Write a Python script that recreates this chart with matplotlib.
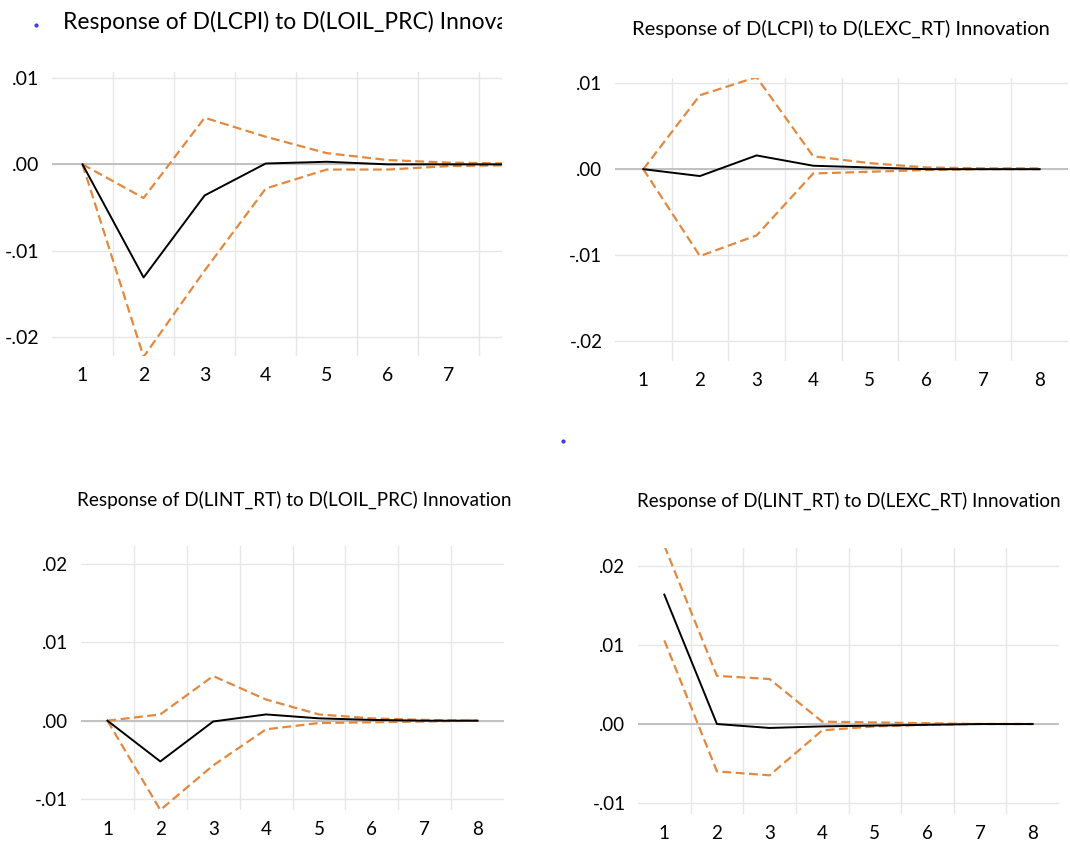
import matplotlib
matplotlib.use("Agg")
import matplotlib.pyplot as plt
from matplotlib.lines import Line2D
from matplotlib.transforms import Bbox, TransformedBbox

plt.rcParams['font.family'] = ['Lato', 'DejaVu Sans']

# Impulse responses (periods 1..8)
periods = [1, 2, 3, 4, 5, 6, 7, 8]

cpi_oil = [0.0, -0.0131, -0.0036, 0.0001, 0.0003, 0.0, 0.0, 0.0]
cpi_oil_hi = [0.0, -0.0039, 0.0054, 0.0032, 0.0013, 0.0005, 0.0002, 0.0001]
cpi_oil_lo = [0.0, -0.0223, -0.0123, -0.0028, -0.0006, -0.0006, -0.0002, -0.0001]

cpi_exc = [0.0, -0.0008, 0.0016, 0.0004, 0.0002, 0.0, 0.0, 0.0]
cpi_exc_hi = [0.0, 0.0086, 0.0107, 0.0015, 0.0007, 0.0002, 0.0001, 0.0001]
cpi_exc_lo = [0.0, -0.0101, -0.0077, -0.0005, -0.0003, -0.0001, 0.0, 0.0]

int_oil = [0.0, -0.0052, -0.0001, 0.0008, 0.0003, 0.0001, 0.0, 0.0]
int_oil_hi = [0.0, 0.0008, 0.0057, 0.0027, 0.0008, 0.0003, 0.0001, 0.0]
int_oil_lo = [0.0, -0.0114, -0.0057, -0.0011, -0.0003, -0.0002, -0.0001, 0.0]

int_exc = [0.0164, 0.0, -0.0005, -0.0003, -0.0002, -0.0001, 0.0, 0.0]
int_exc_hi = [0.0226, 0.0061, 0.0057, 0.0003, 0.0002, 0.0001, 0.0, 0.0]
int_exc_lo = [0.0106, -0.0060, -0.0065, -0.0008, -0.0003, -0.0001, 0.0, 0.0]

titles = ["Response of D(LCPI) to D(LOIL_PRC) Innovation",
          "Response of D(LCPI) to D(LEXC_RT) Innovation",
          "Response of D(LINT_RT) to D(LOIL_PRC) Innovation",
          "Response of D(LINT_RT) to D(LEXC_RT) Innovation"]

top_ticks = [0.01, 0.0, -0.01, -0.02]
top_labels = [".01", ".00", "-.01", "-.02"]
bot_ticks = [0.02, 0.01, 0.0, -0.01]
bot_labels = [".02", ".01", ".00", "-.01"]

W, H = 1070, 846
fig = plt.figure(figsize=(W / 100, H / 100), dpi=100)
renderer = fig.canvas.get_renderer()

ORANGE = '#e3893f'

# pixel boxes: left, top, right, bottom
boxes = [(52, 72, 502, 356), (615, 78, 1068, 361),
         (81, 546, 504, 810), (638, 548, 1059, 814)]
xlims = [(0.5, 7.87), (0.5, 8.5), (0.5, 8.5), (0.5, 8.5)]
ylims = [(-0.0222, 0.0107), (-0.0223, 0.0106), (-0.0114, 0.0223), (-0.0114, 0.0223)]
series = [(cpi_oil, cpi_oil_hi, cpi_oil_lo), (cpi_exc, cpi_exc_hi, cpi_exc_lo),
          (int_oil, int_oil_hi, int_oil_lo), (int_exc, int_exc_hi, int_exc_lo)]
# title start x, baseline y and full width (pixels)
title_pos = [(63, 29, 483), (632, 35, 420), (77, 506, 433), (637, 507, 422)]

for i, (l, t, r, b) in enumerate(boxes):
    ax = fig.add_axes([l / W, 1 - b / H, (r - l) / W, (b - t) / H])
    resp, hi, lo = series[i]
    ax.set_xlim(*xlims[i])
    ax.set_ylim(*ylims[i])
    if i < 2:
        ax.set_yticks(top_ticks, top_labels)
    else:
        ax.set_yticks(bot_ticks, bot_labels)
    shown = periods[:-1] if i == 0 else periods
    ax.set_xticks(shown)
    ax.set_xticks([p + 0.5 for p in periods[:-1]], minor=True)
    ax.grid(axis='y', which='major', color='#e6e6e6', lw=1.0)
    ax.grid(axis='x', which='minor', color='#e6e6e6', lw=1.0)
    ax.axhline(0, color='#bdbdbd', lw=1.3, zorder=1)
    for s in ax.spines.values():
        s.set_visible(False)
    ax.tick_params(which='both', length=0, labelsize=14 if i == 0 else 13.5)
    ax.tick_params(axis='y', pad=9)
    ax.tick_params(axis='x', pad=8)
    ax.plot(periods, hi, color=ORANGE, lw=1.6, ls=(0, (4, 2)), zorder=3)
    ax.plot(periods, lo, color=ORANGE, lw=1.6, ls=(0, (4, 2)), zorder=3)
    ax.plot(periods, resp, color='black', lw=1.4, zorder=4)
    ax.set_axisbelow(True)

    tx, ty, tw = title_pos[i]
    txt = fig.text(tx / W, 1 - ty / H, titles[i], fontsize=15,
                   ha='left', va='baseline')
    # fit the title to the width it has in the original
    w = txt.get_window_extent(renderer).width
    txt.set_fontsize(15 * tw / w)
    if i == 0:
        txt.set_clip_box(TransformedBbox(Bbox([[0, 0.9], [502 / W, 1.0]]),
                                         fig.transFigure))
        txt.set_clip_on(True)

# stray dots present in the original screenshot
for px, py in [(36, 25), (563, 441)]:
    fig.add_artist(Line2D([px / W], [1 - py / H], marker='o', ms=2,
                          color='#3a3aff', lw=0, transform=fig.transFigure))

fig.savefig("out.png", dpi=100)
